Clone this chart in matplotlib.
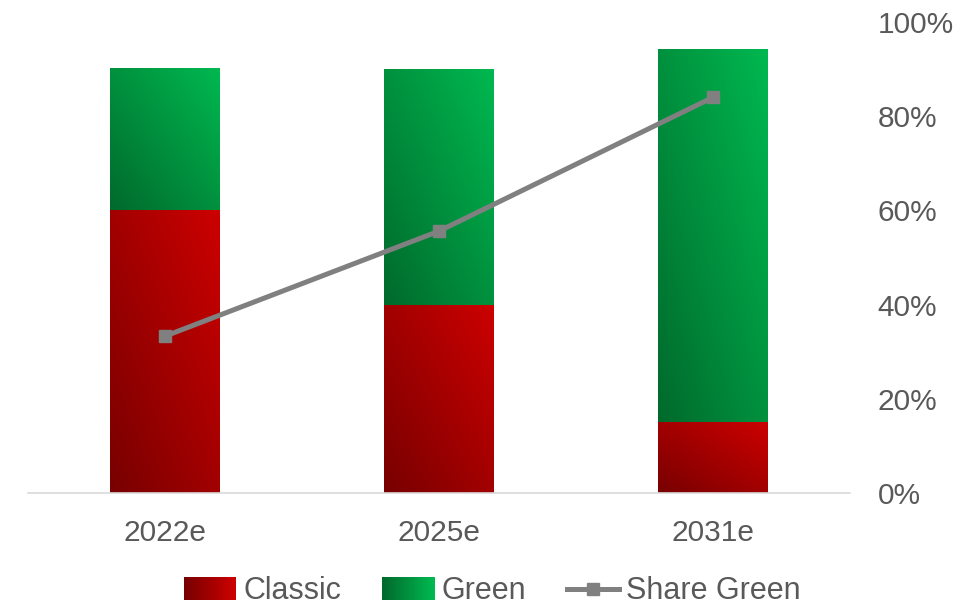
import numpy as np
import matplotlib
matplotlib.use("Agg")
import matplotlib.pyplot as plt
from matplotlib.colors import LinearSegmentedColormap
from matplotlib.patches import Rectangle
from matplotlib.legend_handler import HandlerPatch
from matplotlib.lines import Line2D

plt.rcParams["font.family"] = ["Liberation Sans", "DejaVu Sans"]

years = ["2022e", "2025e", "2031e"]
classic = [60, 40, 15]
green = [30, 50, 79]
shareGreen = [33.3, 55.6, 84.0]
tickLabels = ["0%", "20%", "40%", "60%", "80%", "100%"]

textColor = "#595959"
redMap = LinearSegmentedColormap.from_list("red", ["#780000", "#cc0000"])
greenMap = LinearSegmentedColormap.from_list("green", ["#006a2c", "#00b850"])


def fillGradient(ax, patch, cmap):
    x, y = patch.get_x(), patch.get_y()
    w, h = patch.get_width(), patch.get_height()
    u = np.linspace(0, 1, 60)
    v = np.linspace(0, 1, 200)
    grid = (u[None, :] + v[:, None]) / 2
    ax.imshow(grid, cmap=cmap, extent=(x, x + w, y, y + h), origin="lower",
              aspect="auto", zorder=2, interpolation="bilinear")
    patch.set_facecolor("none")


class GradientHandler(HandlerPatch):
    def __init__(self, cmap):
        super().__init__()
        self.cmap = cmap

    def create_artists(self, legend, orig_handle, xdescent, ydescent,
                       width, height, fontsize, trans):
        n = 24
        artists = []
        for i in range(n):
            r = Rectangle((-xdescent + width * i / n, -ydescent - 1), width / n + 0.3,
                          height + 2, facecolor=self.cmap(i / (n - 1)),
                          edgecolor="none", transform=trans)
            artists.append(r)
        return artists


fig = plt.figure(figsize=(9.77, 6.06), dpi=100)
ax = fig.add_axes([0.0287, 0.1865, 0.8413, 0.7772])

xs = np.arange(len(years))
barsC = ax.bar(xs, classic, width=0.4, zorder=2)
barsG = ax.bar(xs, green, width=0.4, bottom=classic, zorder=2)
for p in barsC:
    fillGradient(ax, p, redMap)
for p in barsG:
    fillGradient(ax, p, greenMap)

ax.plot(xs, shareGreen, color="#808080", linewidth=3.6, marker="s",
        markersize=8, zorder=4)

ax.set_xlim(-0.5, 2.5)
ax.set_ylim(0, 100)
ax.set_xticks(xs)
ax.set_xticklabels(years)
ax.yaxis.tick_right()
ax.set_yticks(np.arange(0, 101, 20))
ax.set_yticklabels(tickLabels)
ax.tick_params(axis="both", length=0, labelsize=21.5, labelcolor=textColor)
ax.tick_params(axis="y", pad=20)
ax.tick_params(axis="x", pad=19)
for s in ["top", "left", "right"]:
    ax.spines[s].set_visible(False)
ax.spines["bottom"].set_color("#d9d9d9")
ax.spines["bottom"].set_linewidth(1.2)

hC = Rectangle((0, 0), 1, 1)
hG = Rectangle((0, 0), 1, 1)
hL = Line2D([], [], color="#808080", linewidth=3.6, marker="s", markersize=8)
leg = fig.legend([hC, hG, hL], ["Classic", "Green", "Share Green"],
                 loc="center", bbox_to_anchor=(0.504, 0.024), ncol=3, frameon=False,
                 fontsize=22, handlelength=1.7, handleheight=0.65,
                 handletextpad=0.23, columnspacing=1.35,
                 handler_map={hC: GradientHandler(redMap), hG: GradientHandler(greenMap)})
for t in leg.get_texts():
    t.set_color(textColor)

fig.savefig("out.png", dpi=100)
